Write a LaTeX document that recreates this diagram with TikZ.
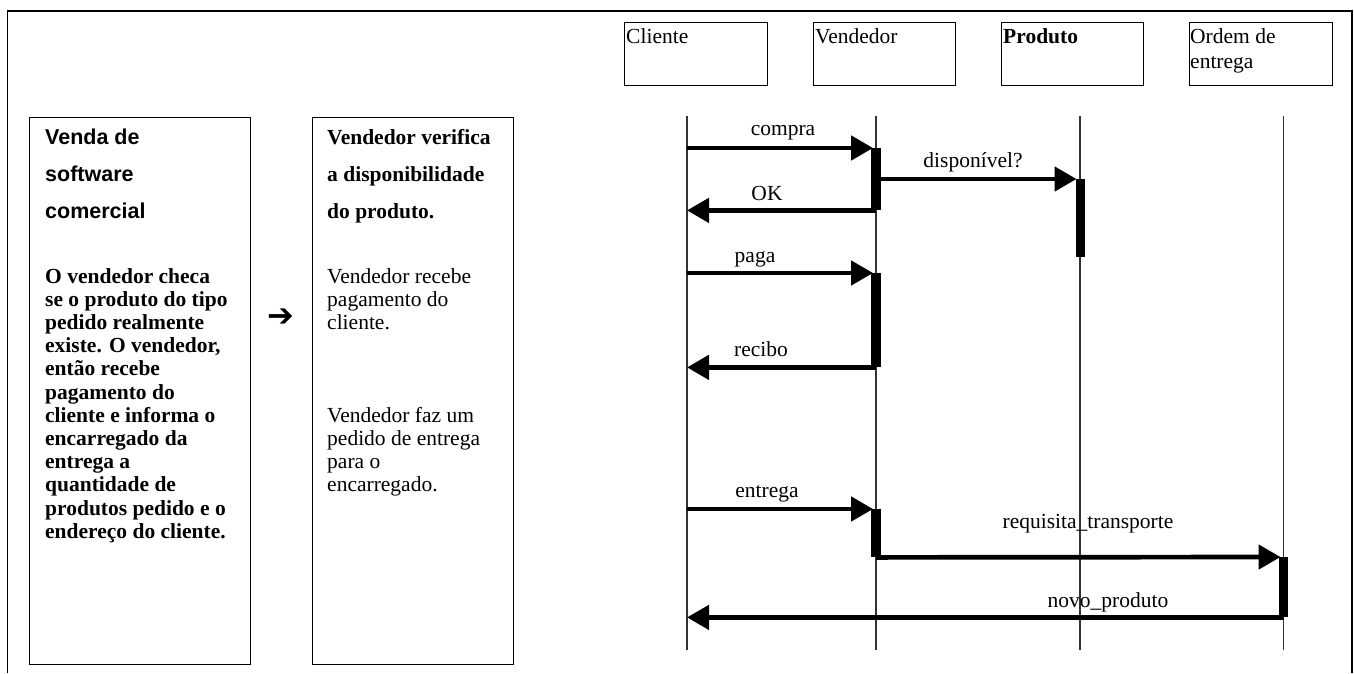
\documentclass[tikz,border=0pt]{standalone}
\usepackage{fontspec}
\setmainfont{Liberation Serif}
\newfontfamily\headsans{Liberation Sans}
\newfontfamily\dingfont{DejaVu Sans}
\usetikzlibrary{arrows.meta}

\newcommand{\bodysize}{\fontsize{21.5}{23.2}\selectfont}
\newcommand{\headsize}{\fontsize{21.5}{37}\selectfont}

\tikzset{
  sheet/.style={line width=1.6pt},
  panel/.style={draw, line width=1.4pt, anchor=north west, inner sep=0pt},
  actor/.style={panel, minimum width=142pt, minimum height=63pt},
  lifeline/.style={draw=black!80, line width=1.2pt},
  activation/.style={fill=black, draw=none, minimum width=9.5pt, minimum height=#1, inner sep=0pt, anchor=north},
  msg/.style={line width=4.7pt, -{Triangle[length=22pt,width=24pt]}},
  msglabel/.style={anchor=base, inner sep=0pt, font=\bodysize},
  txt/.style={anchor=base west, inner sep=0pt},
}

\begin{document}
\begin{tikzpicture}[x=1pt, y=-1pt]
\useasboundingbox (0,0) rectangle (1354,673);

% outer sheet border (open at the bottom)
\draw[sheet] (7.5,673) -- (7.5,11) -- (1352,11) -- (1352,673);

% description panels
\node[panel, minimum width=221pt, minimum height=547pt] (caso) at (29,117) {};
\node[panel, minimum width=201pt, minimum height=547pt] (passos) at (312,117) {};

\node[txt] (titulo) at (45,144.5) {\parbox[t]{200pt}{\raggedright\headsans\bfseries\headsize
  Venda de\\software\\comercial}};
\node[txt] (resumo) at (45,283) {\parbox[t]{205pt}{\raggedright\bfseries\bodysize
  O vendedor checa\\se o produto do tipo\\pedido realmente\\existe. O vendedor,\\então recebe\\pagamento do\\cliente e informa o\\encarregado da\\entrega a\\quantidade de\\produtos pedido e o\\endereço do cliente.}};

\node (seta) at (281,318) {\dingfont\fontsize{32}{32}\selectfont ➔};

\node[txt] (verifica) at (327,144.5) {\parbox[t]{190pt}{\raggedright\bfseries\headsize
  Vendedor verifica\\a disponibilidade\\do produto.}};
\node[txt] (recebe) at (327,283) {\parbox[t]{190pt}{\raggedright\bodysize
  Vendedor recebe\\pagamento do\\cliente.}};
\node[txt] (pedido) at (327,422.2) {\parbox[t]{190pt}{\raggedright\bodysize
  Vendedor faz um\\pedido de entrega\\para o\\encarregado.}};

% actors
\node[actor, minimum width=143pt] (cli) at (624,22) {};
\node[actor] (ven) at (813,22) {};
\node[actor] (pro) at (1001,22) {};
\node[actor, minimum width=143pt] (ord) at (1189,22) {};

\node[txt] (cli-nome) at (626,43) {\bodysize Cliente};
\node[txt] (ven-nome) at (815,43) {\bodysize Vendedor};
\node[txt] (pro-nome) at (1003,43) {\bodysize\bfseries Produto};
\node[txt] (ord-nome) at (1190,43) {\parbox[t]{140pt}{\fontsize{21.5}{25}\selectfont Ordem de\\entrega}};

% lifelines
\coordinate (cli-top) at (687,116);   \coordinate (cli-bot) at (687,650);
\coordinate (ven-top) at (876,116);   \coordinate (ven-bot) at (876,650);
\coordinate (pro-top) at (1080,116);  \coordinate (pro-bot) at (1080,650);
\coordinate (ord-top) at (1283.5,116);\coordinate (ord-bot) at (1283.5,650);
\draw[lifeline] (cli-top) -- (cli-bot);
\draw[lifeline] (ven-top) -- (ven-bot);
\draw[lifeline] (pro-top) -- (pro-bot);
\draw[lifeline] (ord-top) -- (ord-bot);

% activation bars
\node[activation=62pt] (v1) at (876,148) {};
\node[activation=78pt] (p1) at (1080.5,179) {};
\node[activation=94pt] (v2) at (876,273) {};
\node[activation=48pt] (v3) at (876,509) {};
\node[activation=60pt] (o1) at (1283.5,557) {};

% messages
\draw[msg] (cli-top |- v1.north) -- ([xshift=2pt]v1.north west);
\draw[msg] (v1.east |- p1.north) -- ([xshift=1pt]p1.north west);
\draw[msg] (v1.south) -- (cli-top |- v1.south);
\draw[msg] (cli-top |- v2.north) -- ([xshift=2pt]v2.north west);
\draw[msg] (v2.south) -- (cli-top |- v2.south);
\draw[msg] (cli-top |- v3.north) -- ([xshift=2pt]v3.north west);
\draw[msg] (v3.south) -- ([xshift=2pt]o1.north west);
\draw[msg] (o1.south) -- (cli-top |- o1.south);

% message labels
\node[msglabel] (l-compra) at (783,135) {compra};
\node[msglabel] (l-disp) at (973,167) {disponível?};
\node[msglabel] (l-ok) at (767,200) {OK};
\node[msglabel] (l-paga) at (755,262) {paga};
\node[msglabel] (l-recibo) at (761,356) {recibo};
\node[msglabel] (l-entrega) at (767,497) {entrega};
\node[msglabel] (l-req) at (1088,528) {requisita\_transporte};
\node[msglabel] (l-novo) at (1108,607) {novo\_produto};
\end{tikzpicture}
\end{document}
